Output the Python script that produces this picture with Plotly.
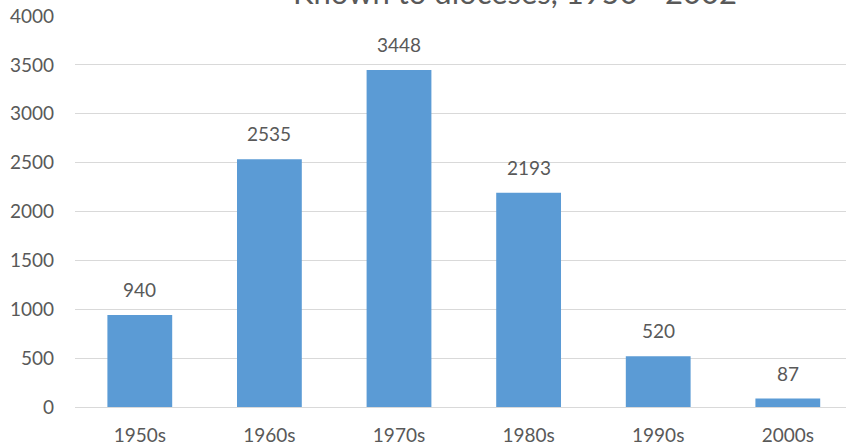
import plotly.graph_objects as go

decades = ["1950s", "1960s", "1970s", "1980s", "1990s", "2000s"]
counts = [940, 2535, 3448, 2193, 520, 87]
y_ticks = [0, 500, 1000, 1500, 2000, 2500, 3000, 3500, 4000]
title_text = "Known to dioceses, 1950 - 2002"

font_family = "Lato, 'Open Sans', sans-serif"
gray = "#595959"

fig = go.Figure()
fig.add_trace(go.Bar(
    x=decades, y=counts,
    marker=dict(color="#5B9BD5", line=dict(width=0)),
    hoverinfo="x+y",
))

for d, c in zip(decades, counts):
    fig.add_annotation(
        x=d, y=c, text=str(c), showarrow=False,
        yanchor="bottom", yshift=12,
        font=dict(family=font_family, size=19, color=gray),
    )

# chart title (partly cut off at the top edge, as in the reference)
fig.add_annotation(
    xref="paper", yref="paper", x=0.571, y=1.0,
    xanchor="center", yanchor="bottom", yshift=3,
    text=title_text, showarrow=False,
    font=dict(family=font_family, size=31, color=gray),
)

fig.update_layout(
    width=846, height=448,
    margin=dict(l=75, r=0, t=16, b=41),
    paper_bgcolor="white", plot_bgcolor="white",
    bargap=0.5,
    showlegend=False,
    xaxis=dict(
        range=[-0.5, 5.449],
        showline=True, linecolor="#D9D9D9", linewidth=1,
        ticks="", showgrid=False,
        tickfont=dict(family=font_family, size=19, color=gray),
        ticklabelstandoff=11,
    ),
    yaxis=dict(
        range=[0, 4000],
        tickvals=y_ticks,
        showgrid=True, gridcolor="#D9D9D9", gridwidth=1,
        zeroline=False, showline=False, ticks="",
        tickfont=dict(family=font_family, size=19, color=gray),
        ticklabelstandoff=20,
    ),
)

fig.write_html(
    "out.html",
    config={"displayModeBar": False},
    post_script="document.body.style.margin='0';document.body.style.overflow='hidden';",
)
